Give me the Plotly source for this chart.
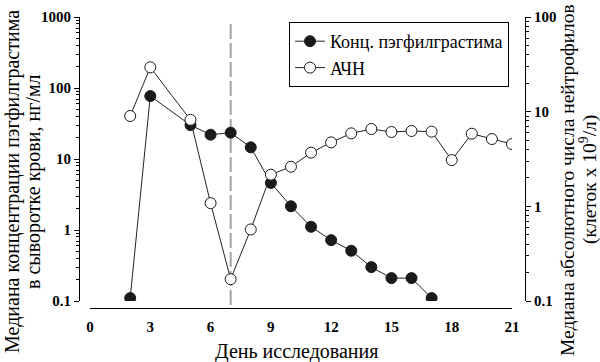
import plotly.graph_objects as go

days_conc = [2, 3, 5, 6, 7, 8, 9, 10, 11, 12, 13, 14, 15, 16, 17]
conc = [0.11, 77, 30, 22, 23.5, 14.6, 4.6, 2.16, 1.11, 0.72, 0.51, 0.30, 0.21, 0.21, 0.11]

days_anc = [2, 3, 5, 6, 7, 8, 9, 10, 11, 12, 13, 14, 15, 16, 17, 18, 19, 20, 21]
anc = [9.0, 29.4, 8.2, 1.08, 0.17, 0.57, 2.16, 2.62, 3.69, 4.74, 5.9, 6.56, 6.1, 6.25, 6.15, 3.08, 5.85, 5.14, 4.55]

x_ticks = [0, 3, 6, 9, 12, 15, 18, 21]
left_ticks = [0.1, 1, 10, 100, 1000]
left_labels = ["0.1", "1", "10", "100", "1000"]
right_ticks = [0.1, 1, 10, 100]
right_labels = ["0.1", "1", "10", "100"]

left_title = ["Медиана концентрации пэгфилграстима", "в сыворотке крови, нг/мл"]
right_title = ["Медиана абсолютного числа нейтрофилов", "(клеток x 10<sup>9</sup>/л)"]
x_title = "День исследования"

FONT = "'Liberation Serif', 'DejaVu Serif', serif"

def minors(lo, hi):
    out = []
    for k in range(lo, hi):
        for m in range(2, 10):
            out.append(m * 10 ** k)
    return out

fig = go.Figure()
fig.add_trace(go.Scatter(
    x=days_conc, y=conc, name="Конц. пэгфилграстима", mode="lines+markers",
    line=dict(color="#222", width=1),
    marker=dict(symbol="circle", size=11, color="#1a1a1a", line=dict(color="#1a1a1a", width=1)),
    yaxis="y"))
fig.add_trace(go.Scatter(
    x=days_anc, y=anc, name="АЧН", mode="lines+markers",
    line=dict(color="#222", width=1),
    marker=dict(symbol="circle", size=11, color="white", line=dict(color="#1a1a1a", width=1)),
    yaxis="y2"))

L, R, T, B = 79, 75, 17, 54
W, H = 600, 362
pw = W - L - R
ph = H - T - B
xd0 = (90 - L) / pw
xd1 = (512 - L) / pw
yd0 = (308 - 301) / ph

def px(xp):
    return (xp - L) / pw

def py(yp):
    return (H - B - yp) / ph

fig.add_shape(type="line", xref="x", yref="paper", x0=7, x1=7,
              y0=py(305), y1=py(22),
              line=dict(color="#a3a3a3", width=2, dash="15px,4px"), layer="below")

TF = dict(family=FONT, size=20, color="black")
TF2 = dict(family=FONT, size=19.5, color="black")
fig.add_annotation(text=left_title[0], xref="paper", yref="paper", x=px(12), y=py(182),
                   textangle=-90, showarrow=False, font=TF, xanchor="center", yanchor="middle")
fig.add_annotation(text=left_title[1], xref="paper", yref="paper", x=px(33), y=py(182),
                   textangle=-90, showarrow=False, font=TF, xanchor="center", yanchor="middle")
fig.add_annotation(text=right_title[0], xref="paper", yref="paper", x=px(567), y=py(180),
                   textangle=-90, showarrow=False, font=TF2, xanchor="center", yanchor="middle")
fig.add_annotation(text=right_title[1], xref="paper", yref="paper", x=px(588), y=py(180),
                   textangle=-90, showarrow=False, font=TF2, xanchor="center", yanchor="middle")
fig.add_annotation(text=x_title, xref="paper", yref="paper", x=px(296), y=py(351),
                   showarrow=False, font=TF, xanchor="center", yanchor="middle")

TICKF = dict(family=FONT, size=15, color="black", weight="bold")

fig.update_layout(
    width=W, height=H, margin=dict(l=L, r=R, t=T, b=B, autoexpand=False),
    paper_bgcolor="white", plot_bgcolor="white",
    font=dict(family=FONT, size=16, color="black"),
    showlegend=True,
    legend=dict(x=px(289), y=py(22), xanchor="left", yanchor="top",
                bordercolor="black", borderwidth=1, bgcolor="white",
                font=dict(family=FONT, size=18, color="black"),
                tracegroupgap=0, itemwidth=30),
    xaxis=dict(domain=[xd0, xd1], range=[0, 21], tickvals=x_ticks, automargin=False,
               showline=True, linecolor="black", linewidth=1, ticks="",
               showgrid=False, zeroline=False, anchor="free", position=0,
               tickfont=TICKF, ticklabelstandoff=5),
    yaxis=dict(type="log", range=[-1, 3], domain=[yd0, 1], anchor="free", position=0,
               automargin=False,
               tickvals=left_ticks, ticktext=left_labels, ticks="outside", ticklen=5,
               tickcolor="black", showline=True, linecolor="black", linewidth=1,
               showgrid=False, zeroline=False,
               minor=dict(tickvals=minors(-1, 3), ticks="outside", ticklen=3, tickcolor="black"),
               tickfont=TICKF),
    yaxis2=dict(type="log", range=[-1, 2], domain=[yd0, 1], anchor="free", position=1,
                overlaying="y", side="right", automargin=False,
                tickvals=right_ticks, ticktext=right_labels, ticks="outside", ticklen=5,
                tickcolor="black", showline=True, linecolor="black", linewidth=1,
                showgrid=False, zeroline=False,
                minor=dict(tickvals=minors(-1, 2), ticks="outside", ticklen=3, tickcolor="black"),
                tickfont=TICKF),
)

fig.write_html("out.html")
